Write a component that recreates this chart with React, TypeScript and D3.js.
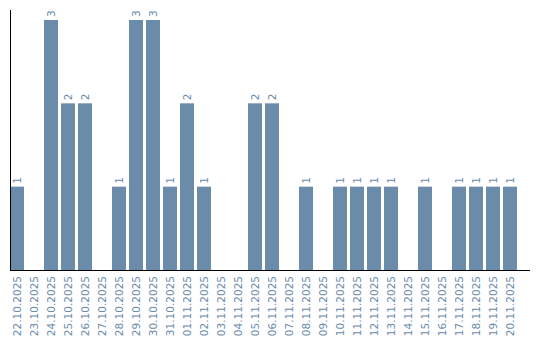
import React from "react";
import * as d3 from "d3";

const dates = [
  "22.10.2025", "23.10.2025", "24.10.2025", "25.10.2025", "26.10.2025",
  "27.10.2025", "28.10.2025", "29.10.2025", "30.10.2025", "31.10.2025",
  "01.11.2025", "02.11.2025", "03.11.2025", "04.11.2025", "05.11.2025",
  "06.11.2025", "07.11.2025", "08.11.2025", "09.11.2025", "10.11.2025",
  "11.11.2025", "12.11.2025", "13.11.2025", "14.11.2025", "15.11.2025",
  "16.11.2025", "17.11.2025", "18.11.2025", "19.11.2025", "20.11.2025",
];
const counts = [
  1, 0, 3, 2, 2, 0, 1, 3, 3, 1,
  2, 1, 0, 0, 2, 2, 0, 1, 0, 1,
  1, 1, 1, 0, 1, 0, 1, 1, 1, 1,
];

const W = 540;
const H = 340;
const left = 10;
const baseY = 270;
const color = "#6a8baa";
const font = "'DejaVu Sans', Verdana, sans-serif";

export default function App() {
  const x = d3.scaleBand<string>().domain(dates).range([left, 517]).paddingInner(3 / 17).paddingOuter(0);
  const y = d3.scaleLinear().domain([0, 3]).range([baseY, 20]);
  return (
    <svg width={W} height={H} style={{ position: "absolute", left: 0, top: 0 }}>
      {dates.map((d, i) => {
        const v = counts[i];
        const cx = (x(d) as number) + x.bandwidth() / 2;
        return (
          <g key={d}>
            {v > 0 && (
              <rect x={x(d)} y={y(v)} width={x.bandwidth()} height={baseY - y(v)} fill={color} />
            )}
            {v > 0 && (
              <text
                transform={`translate(${cx},${y(v) - 3}) rotate(-90)`}
                dy="0.35em"
                textAnchor="start"
                fontSize={10.5}
                fontFamily={font}
                fill={color}
              >
                {v}
              </text>
            )}
            <text
              transform={`translate(${cx},${baseY + 6}) rotate(-90)`}
              dy="0.35em"
              textAnchor="end"
              fontSize={10.5}
              fontFamily={font}
              fill={color}
            >
              {d}
            </text>
          </g>
        );
      })}
      <line x1={10.5} x2={10.5} y1={10} y2={baseY} stroke="#000" />
      <line x1={10} x2={530} y1={baseY + 0.5} y2={baseY + 0.5} stroke="#000" />
    </svg>
  );
}
